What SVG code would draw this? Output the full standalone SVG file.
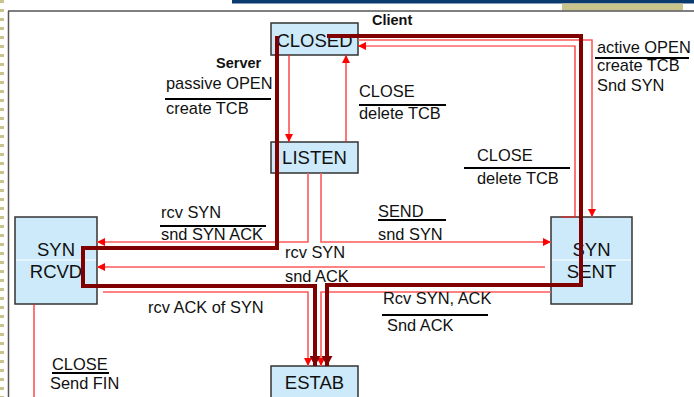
<svg xmlns="http://www.w3.org/2000/svg" width="694" height="397" viewBox="0 0 694 397">
<style>
text{font-family:"Liberation Sans",Arial,sans-serif;fill:#111}
.lbl{font-size:16.4px}
.node{font-size:18.5px}
.bold{font-size:14.5px;font-weight:bold}
.box{fill:#cdeafb;stroke:#333;stroke-width:1.5}
.thin{fill:none;stroke:#ff1a1a;stroke-width:1.2}
.pale{fill:none;stroke:#ff5a5a;stroke-width:1.6}
.thick{fill:none;stroke:#800000;stroke-width:4}
.bar{stroke:#000;stroke-width:2}
</style>
<defs>
<marker id="ra" markerUnits="userSpaceOnUse" markerWidth="8" markerHeight="8" refX="8" refY="4" orient="auto"><path d="M0,0 L8,4 L0,8 z" fill="#ff0000"/></marker>
<marker id="ta" markerUnits="userSpaceOnUse" markerWidth="10" markerHeight="11" refX="10" refY="5.5" orient="auto"><path d="M0,0 L10,5.5 L0,11 z" fill="#800000"/></marker>
</defs>
<g id="frame">
<rect x="232" y="0" width="462" height="3.5" fill="#0b3a6e"/>
<rect x="562" y="3.5" width="121" height="7" fill="#c8c48c"/>
<line x1="8" y1="11" x2="694" y2="11" stroke="#555" stroke-width="1.5"/>
<line x1="8.5" y1="11" x2="8.5" y2="397" stroke="#555" stroke-width="1.5"/>
<line x1="2" y1="0" x2="2" y2="397" stroke="#c8c48c" stroke-width="4" stroke-dasharray="3 6"/>
</g>
<g id="CLOSED"><rect class="box" x="271" y="23" width="87" height="32"/><text class="node" x="314.5" y="47" text-anchor="middle">CLOSED</text></g>
<g id="LISTEN"><rect class="box" x="271" y="142" width="87" height="31"/><text class="node" x="314.5" y="164" text-anchor="middle">LISTEN</text></g>
<g id="SYNRCVD"><rect class="box" x="15" y="217" width="82" height="87"/><line x1="16" y1="260" x2="96" y2="260" stroke="#fff" stroke-width="1"/><text class="node" x="56" y="256" text-anchor="middle">SYN</text><text class="node" x="56" y="278" text-anchor="middle">RCVD</text></g>
<g id="SYNSENT"><rect class="box" x="551" y="217" width="81" height="87"/><line x1="552" y1="260" x2="631" y2="260" stroke="#fff" stroke-width="1"/><text class="node" x="591.5" y="256" text-anchor="middle">SYN</text><text class="node" x="591.5" y="278" text-anchor="middle">SENT</text></g>
<g id="ESTAB"><rect class="box" x="271" y="366" width="87" height="40"/><text class="node" x="314.5" y="389" text-anchor="middle">ESTAB</text></g>
<g id="connectors">
<path class="thin" d="M289,55 V142" marker-end="url(#ra)"/>
<path class="thin" d="M346,142 V55" marker-end="url(#ra)"/>
<path class="pale" d="M358,40 H592 V217" marker-end="url(#ra)"/>
<path class="thin" d="M561,217 H575 V46 H358" marker-end="url(#ra)"/>
<path class="pale" d="M308,173 V242 H97" marker-end="url(#ra)"/>
<path class="pale" d="M321,173 V242 H551" marker-end="url(#ra)"/>
<path class="pale" d="M545,267 H97" marker-end="url(#ra)"/>
<path class="pale" d="M103,292 H308 V366" marker-end="url(#ra)"/>
<path class="pale" d="M551,292 H321 V366" marker-end="url(#ra)"/>
<path class="thin" d="M34,304 V397"/>
<path class="thick" d="M277,36 V248 H83 V286 H315 V366" marker-end="url(#ta)"/>
<path class="thick" d="M327,36 H581 V285 H327 V366" marker-end="url(#ta)"/>
</g>
<g id="labels">
<text class="bold" x="372" y="25">Client</text>
<text class="bold" x="216" y="68">Server</text>
<text class="lbl" x="166" y="89">passive OPEN</text>
<line class="bar" x1="165" y1="99" x2="271" y2="99"/>
<text class="lbl" x="166" y="114">create TCB</text>
<text class="lbl" x="359" y="97">CLOSE</text>
<line class="bar" x1="359" y1="105" x2="446" y2="105"/>
<text class="lbl" x="359" y="119">delete TCB</text>
<text class="lbl" x="597" y="53">active OPEN</text>
<line class="bar" x1="595" y1="58" x2="689" y2="58"/>
<text class="lbl" x="597" y="71">create TCB</text>
<text class="lbl" x="597" y="91">Snd SYN</text>
<text class="lbl" x="477" y="161">CLOSE</text>
<line class="bar" x1="464" y1="168" x2="570" y2="168"/>
<text class="lbl" x="477" y="184">delete TCB</text>
<text class="lbl" x="161" y="218">rcv SYN</text>
<line class="bar" x1="160" y1="226" x2="266" y2="226"/>
<text class="lbl" x="161" y="240">snd SYN ACK</text>
<text class="lbl" x="378" y="217">SEND</text>
<line class="bar" x1="378" y1="220" x2="446" y2="220"/>
<text class="lbl" x="378" y="240">snd SYN</text>
<text class="lbl" x="285" y="258">rcv SYN</text>
<text class="lbl" x="285" y="282">snd ACK</text>
<text class="lbl" x="148" y="313">rcv ACK of SYN</text>
<text class="lbl" x="383" y="304">Rcv SYN, ACK</text>
<line class="bar" x1="382" y1="315" x2="488" y2="315"/>
<text class="lbl" x="387" y="331">Snd ACK</text>
<text class="lbl" x="52" y="370">CLOSE</text>
<line class="bar" x1="52" y1="373" x2="109" y2="373"/>
<text class="lbl" x="50" y="389">Send FIN</text>
</g>
</svg>
